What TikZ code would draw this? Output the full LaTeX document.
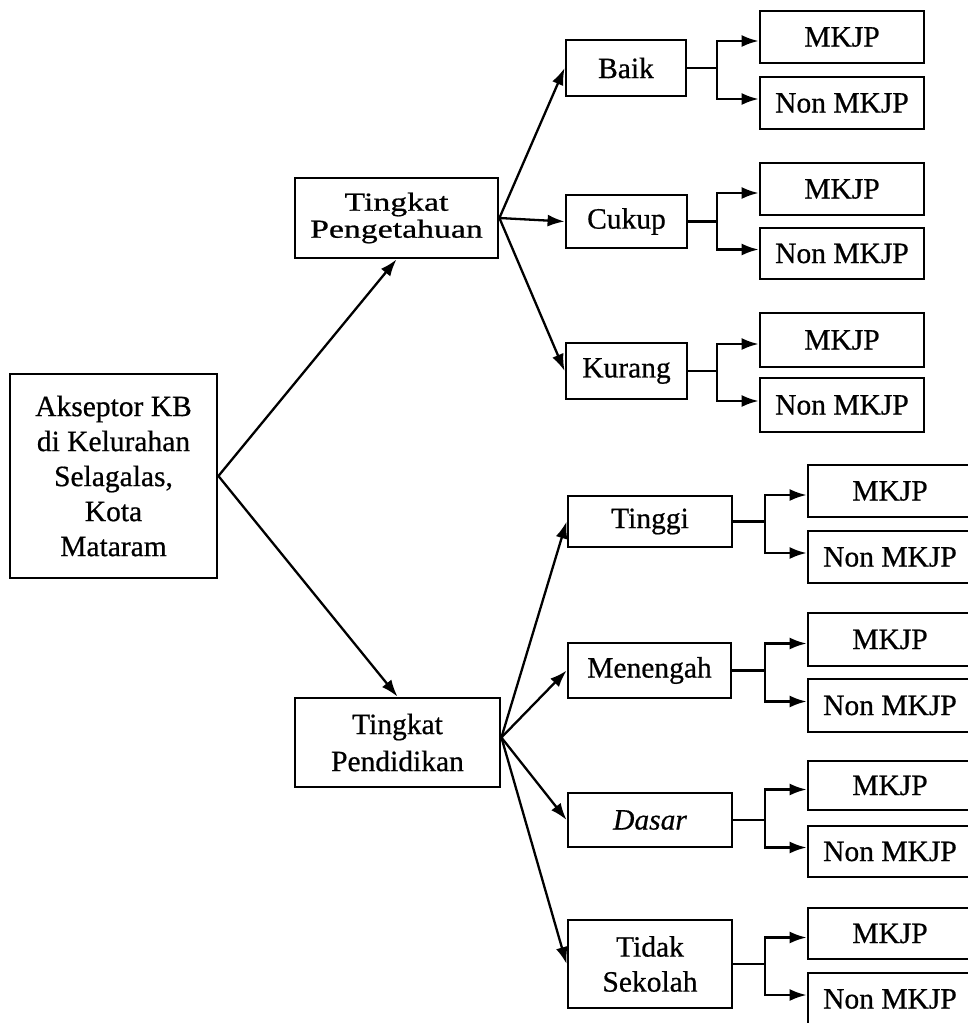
\documentclass[tikz,border=0pt]{standalone}
\usepackage{graphicx}
\usepackage{fontspec}
\setmainfont[FakeBold=0.6]{Liberation Serif}
\usetikzlibrary{arrows.meta}
\newcommand\mybox[7][]{%
  \node[box,#1,minimum width={#5-#3},minimum height={#6-#4}] (#2) at ({(#3+#5)/2},{(#4+#6)/2}) {#7};}
\newcommand\mytwoway[4]{%
  \draw[conn] (#1.east) -- (#1.east -| #4);
  \draw[arr] (#1.east -| #4) |- ([yshift=-4pt]#2.west);
  \draw[arr] (#1.east -| #4) |- ([yshift=4pt]#3.west);}
\begin{document}
\begin{tikzpicture}[x=1pt,y=-1pt,
  box/.style={draw,line width=2.8pt,inner sep=0pt,align=center,font=\fontsize{29.5}{35}\selectfont},
  conn/.style={line width=2.3pt},
  arr/.style={line width=2.3pt,-{Latex[length=17pt,width=12pt]}}]
\useasboundingbox (0,0) rectangle (967,1023);
\fill[white] (0,0) rectangle (967,1023);
% level 0
\mybox{root}{10}{374}{217}{578}{Akseptor KB\\di Kelurahan\\Selagalas,\\Kota\\Mataram}
% level 1
\mybox[font=\fontsize{26}{27}\selectfont]{peng}{295}{178}{498}{258}{\scalebox{1.3}[1]{Tingkat}\\\scalebox{1.3}[1]{Pengetahuan}}
\mybox{pend}{295}{698}{500}{787}{Tingkat\\[2pt]Pendidikan}
% level 2 (top)
\mybox{baik}{566}{40}{686}{96}{Baik}
\mybox{cukup}{566}{195}{687}{248}{Cukup}
\mybox{kurang}{566}{343}{687}{399}{Kurang}
% level 2 (bottom)
\mybox{tinggi}{568}{496}{732}{547}{Tinggi}
\mybox{meneng}{568}{643}{731}{698}{Menengah}
\mybox{dasar}{568}{793}{732}{847}{\itshape Dasar}
\mybox{tidak}{568}{920}{732}{1008}{Tidak\\Sekolah}
% level 3 (top)
\mybox{bm}{760}{11}{924}{63}{MKJP}
\mybox{bn}{760}{77}{924}{129}{Non MKJP}
\mybox{cm}{760}{163}{924}{215}{MKJP}
\mybox{cn}{760}{228}{924}{279}{Non MKJP}
\mybox{km}{760}{313}{924}{367}{MKJP}
\mybox{kn}{760}{378}{924}{432}{Non MKJP}
% level 3 (bottom)
\mybox{tm}{808}{465}{972}{517}{MKJP}
\mybox{tn}{808}{531}{972}{583}{Non MKJP}
\mybox{mm}{808}{613}{972}{666}{MKJP}
\mybox{mn}{808}{679}{972}{732}{Non MKJP}
\mybox{dm}{808}{761}{972}{810}{MKJP}
\mybox{dn}{808}{826}{972}{877}{Non MKJP}
\mybox{sm}{808}{908}{972}{959}{MKJP}
\mybox{sn}{808}{973}{972}{1025}{Non MKJP}
% junction columns
\coordinate (jt) at (717,0);
\coordinate (jl) at (765,0);
\coordinate (pf) at ([yshift=5pt]pend.east);
% connectors level 0 -> 1
\draw[arr] (root.east) -- (peng.south);
\draw[arr] (root.east) -- (pend.north);
% level 1 -> 2
\draw[arr] (peng.east) -- (baik.west);
\draw[arr] (peng.east) -- (cukup.west);
\draw[arr] (peng.east) -- (kurang.west);
\draw[arr] (pf) -- (tinggi.west);
\draw[arr] (pf) -- (meneng.west);
\draw[arr] (pf) -- (dasar.west);
\draw[arr] (pf) -- (tidak.west);
% level 2 -> 3
\mytwoway{baik}{bm}{bn}{jt}
\mytwoway{cukup}{cm}{cn}{jt}
\mytwoway{kurang}{km}{kn}{jt}
\mytwoway{tinggi}{tm}{tn}{jl}
\mytwoway{meneng}{mm}{mn}{jl}
\mytwoway{dasar}{dm}{dn}{jl}
\mytwoway{tidak}{sm}{sn}{jl}
\end{tikzpicture}
\end{document}
